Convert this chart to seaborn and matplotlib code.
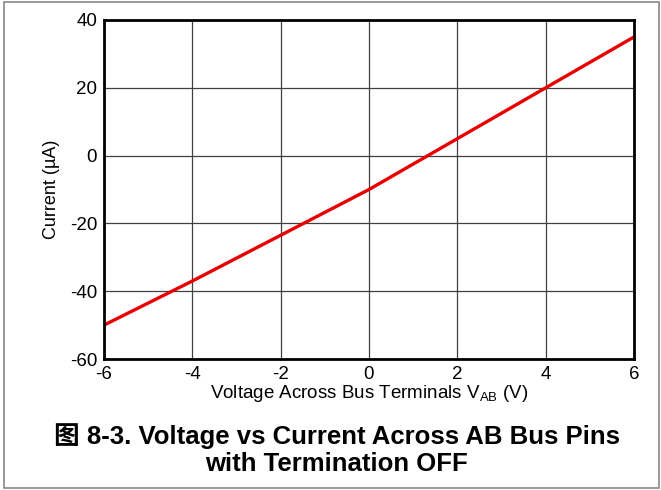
import matplotlib; matplotlib.use("Agg")
import matplotlib.pyplot as plt
from matplotlib.patches import Rectangle
import pandas as pd
import seaborn as sns

# V-I curve
voltage = [-6, -4, -2, 0, 1, 2, 4, 6]
current = [-50, -37, -23.5, -10, -2.5, 5, 20, 35]
x_ticks = [-6, -4, -2, 0, 2, 4, 6]
y_ticks = [-60, -40, -20, 0, 20, 40]

sns.set_style("white")
plt.rcParams["font.family"] = ["Liberation Sans", "Noto Sans CJK SC", "DejaVu Sans"]
plt.rcParams["axes.unicode_minus"] = False
for k in ("text.color", "axes.labelcolor", "xtick.color", "ytick.color"):
    plt.rcParams[k] = "black"

df = pd.DataFrame({"v": voltage, "i": current})

fig = plt.figure(figsize=(6.61, 4.90), dpi=100)
ax = fig.add_axes([104 / 661, 1 - 359 / 490, 530 / 661, 339 / 490])

sns.lineplot(data=df, x="v", y="i", ax=ax, color="#e80000", lw=2.4)

ax.set_xlim(-6, 6)
ax.set_ylim(-60, 40)
ax.set_xticks(x_ticks)
ax.set_yticks(y_ticks)
ax.tick_params(labelsize=13.5, length=3, width=1, color="black", pad=2)
ax.grid(True, color="#404040", lw=0.9)
for s in ax.spines.values():
    s.set_color("black")
    s.set_linewidth(2)
    s.set_zorder(5)

ax.set_xlabel("Voltage Across Bus Terminals V$_{\\mathregular{AB}}$ (V)", fontsize=13.5, labelpad=0)
ax.set_ylabel("Current (µA)", fontsize=13, labelpad=7)

fig.text(337 / 661, 1 - 436 / 490, "图 8-3. Voltage vs Current Across AB Bus Pins",
         ha="center", va="center", fontsize=18.5, fontweight="bold")
fig.text(336 / 661, 1 - 464 / 490, "with Termination OFF",
         ha="center", va="center", fontsize=18.5, fontweight="bold")

fig.patches.append(Rectangle((4 / 661, 2 / 490), 655 / 661, 486 / 490,
                             transform=fig.transFigure, fill=False,
                             edgecolor="#888888", lw=1.2))

fig.savefig("out.png", dpi=100)
plt.close(fig)
